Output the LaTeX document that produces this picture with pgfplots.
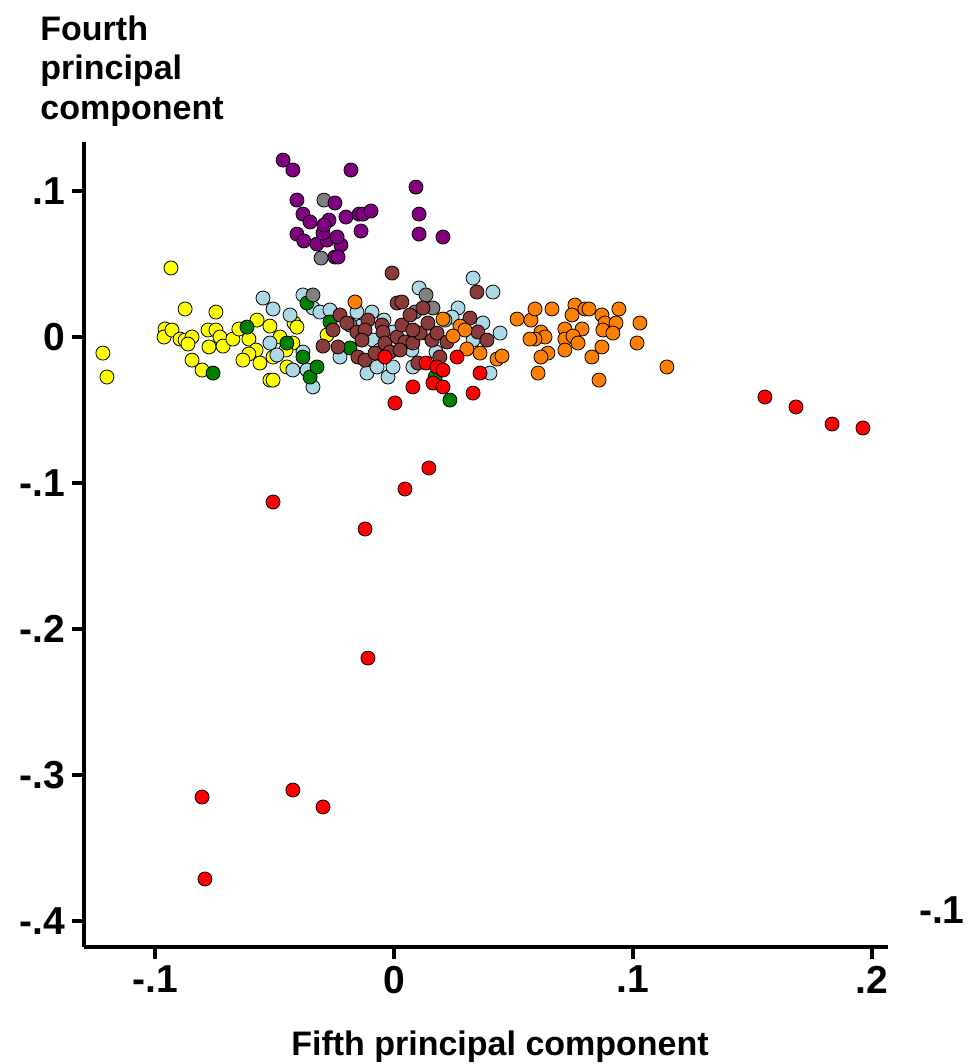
\documentclass[border=0pt]{standalone}
\usepackage{pgfplots}
\pgfplotsset{compat=1.18}
\usepackage{fontspec}
\setmainfont{Liberation Sans}
\definecolor{cyel}{HTML}{FFFF00}
\definecolor{clb}{HTML}{ADD8E6}
\definecolor{cgr}{HTML}{008000}
\definecolor{cgy}{HTML}{808080}
\definecolor{cpu}{HTML}{800080}
\definecolor{cbr}{HTML}{8B3A3A}
\definecolor{cor}{HTML}{FF8000}
\definecolor{cre}{HTML}{FF0000}
\begin{document}
\begin{tikzpicture}
\begin{axis}[
  at={(0,0)}, anchor=south west,
  scale only axis, width=402pt, height=402.5pt,
  xmin=-0.1297, xmax=0.2067, ymin=-0.4178, ymax=0.1336,
  axis x line=bottom, axis y line=left,
  axis line style={line width=1.8pt,-},
  xtick={-0.1,0,0.1,0.2}, xticklabels={-.1,0,.1,.2},
  ytick={-0.4,-0.3,-0.2,-0.1,0,0.1}, yticklabels={-.4,-.3,-.2,-.1,0,.1},
  tick align=outside, major tick length=6pt,
  major tick style={draw=black, line width=1.8pt},
  ticklabel style={font=\fontsize{19.5}{23}\selectfont\bfseries},
  clip=false,
]
% yellow
\addplot[only marks, mark=*, mark size=3.5pt, mark options={draw=black, line width=0.4pt, fill=cyel}] coordinates {
(-0.0933,0.0473) (-0.0874,0.0192) (-0.0745,0.0171) (-0.0958,0.0055) (-0.0962,0)
(-0.0929,0.0048) (-0.0895,-0.0014) (-0.0874,-0.0021) (-0.0845,0) (-0.0862,-0.0048)
(-0.0778,0.0048) (-0.0745,0.0048) (-0.0728,0) (-0.0774,-0.0068) (-0.0715,-0.0062)
(-0.0674,-0.0014) (-0.0649,0.0055) (-0.0607,-0.0014) (-0.0573,0.0116) (-0.0519,0.0075)
(-0.0577,-0.0089) (-0.0607,-0.0116) (-0.0632,-0.0158) (-0.0561,-0.0178) (-0.0506,-0.0137)
(-0.0477,0) (-0.0423,-0.0041) (-0.0448,-0.0205) (-0.0418,0.0096) (-0.0406,0.0068)
(-0.0845,-0.0158) (-0.0803,-0.0226) (-0.1218,-0.0110) (-0.1201,-0.0274) (-0.0519,-0.0295)
(-0.0506,-0.0295) (-0.0280,0.0014) (-0.0452,-0.0089)
};
% light blue
\addplot[only marks, mark=*, mark size=3.5pt, mark options={draw=black, line width=0.4pt, fill=clb}] coordinates {
(-0.0548,0.0267) (-0.0506,0.0192) (-0.0435,0.0151) (-0.0381,0.0288) (-0.0339,0.0199)
(-0.0310,0.0171) (-0.0519,-0.0041) (-0.0381,-0.0103) (-0.0423,-0.0226) (-0.0364,-0.0226)
(-0.0339,-0.0342) (-0.0226,-0.0137) (-0.0113,-0.0247) (-0.0071,-0.0205) (-0.0025,-0.0274)
(-0.0092,0.0171) (-0.0155,0.0171) (-0.0004,0.0034) (-0.0088,-0.0021) (0.0331,0.0404)
(0.0414,0.0308) (0.0105,0.0336) (0.0268,0.0199) (0.0444,0.0027) (0.0372,0.0096)
(0.0331,-0.0021) (0.0402,-0.0247) (-0.0004,-0.0205) (0.0079,-0.0205) (0.0243,0.0137)
(0.0138,0.0027) (-0.0042,0.0116) (-0.0059,-0.0089) (0.0075,-0.0089) (0.0176,-0.0103)
(0.0213,0.0116) (-0.0138,0.0075) (-0.0268,0.0185) (-0.0490,-0.0123)
};
% green
\addplot[only marks, mark=*, mark size=3.5pt, mark options={draw=black, line width=0.4pt, fill=cgr}] coordinates {
(-0.0757,-0.0247) (-0.0615,0.0068) (-0.0448,-0.0041) (-0.0381,-0.0137) (-0.0351,-0.0274)
(-0.0322,-0.0205) (-0.0268,0.0103) (-0.0184,-0.0075) (0.0172,-0.0274) (0.0234,-0.0432)
(-0.0364,0.0233)
};
% grey
\addplot[only marks, mark=*, mark size=3.5pt, mark options={draw=black, line width=0.4pt, fill=cgy}] coordinates {
(-0.0293,0.0938) (-0.0305,0.0541) (-0.0339,0.0288) (-0.0184,0.0082) (0.0134,0.0288)
(0.0088,0.0171) (0.0163,0.0199)
};
% brown
\addplot[only marks, mark=*, mark size=3.5pt, mark options={draw=black, line width=0.4pt, fill=cbr}] coordinates {
(-0.0008,0.0438) (-0.0226,0.0151) (-0.0255,0.0048) (-0.0197,0.0096) (-0.0109,0.0116)
(-0.0155,0.0034) (-0.0121,0.0048) (-0.0134,-0.0021) (-0.0234,-0.0068) (-0.0297,-0.0062)
(-0.0151,-0.0137) (-0.0121,-0.0158) (-0.0079,-0.0110) (-0.0050,0.0082) (-0.0046,0.0034)
(-0.0038,-0.0041) (-0.0017,-0.0103) (0.0013,0.0233) (0.0013,0) (0.0347,0.0308)
(0.0033,0.0240) (0.0033,0.0082) (0.0046,-0.0034) (0.0079,-0.0041) (0.0109,0.0027)
(0.0159,-0.0021) (0.0180,0.0027) (0.0222,-0.0034) (0.0318,0.0130) (0.0351,0.0034)
(0.0389,-0.0021) (0.0192,-0.0137) (0.0100,-0.0178) (0.0121,0.0199) (0.0025,-0.0089)
(0.0142,0.0096) (0.0079,0.0048) (0.0067,0.0151)
};
% purple
\addplot[only marks, mark=*, mark size=3.5pt, mark options={draw=black, line width=0.4pt, fill=cpu}] coordinates {
(-0.0464,0.1212) (-0.0423,0.1144) (-0.0180,0.1144) (0.0092,0.1027) (-0.0406,0.0938)
(-0.0247,0.0918) (-0.0146,0.0842) (-0.0130,0.0842) (-0.0096,0.0863) (-0.0381,0.0842)
(-0.0351,0.0788) (-0.0272,0.0801) (-0.0201,0.0822) (0.0105,0.0842) (-0.0138,0.0726)
(-0.0406,0.0705) (-0.0377,0.0658) (-0.0322,0.0637) (-0.0280,0.0664) (-0.0222,0.0630)
(-0.0297,0.0712) (-0.0238,0.0685) (-0.0247,0.0548) (-0.0234,0.0548) (0.0105,0.0705)
(0.0205,0.0685) (-0.0293,0.0767)
};
% orange
\addplot[only marks, mark=*, mark size=3.5pt, mark options={draw=black, line width=0.4pt, fill=cor}] coordinates {
(0.0515,0.0123) (0.0573,0.0116) (0.0590,0.0192) (0.0661,0.0192) (0.0757,0.0219)
(0.0745,0.0151) (0.0799,0.0192) (0.0816,0.0192) (0.0870,0.0151) (0.0941,0.0192)
(0.1029,0.0096) (0.0883,0.0096) (0.0929,0.0096) (0.0874,0.0048) (0.0916,0.0027)
(0.0787,0.0055) (0.0715,0.0055) (0.0615,0.0034) (0.0632,0) (0.0590,-0.0014)
(0.0715,-0.0014) (0.0749,0.0007) (0.0770,-0.0041) (0.0715,-0.0089) (0.0870,-0.0068)
(0.1017,-0.0041) (0.0644,-0.0110) (0.0615,-0.0137) (0.0828,-0.0137) (0.0603,-0.0247)
(0.0858,-0.0295) (0.1142,-0.0205) (0.0431,-0.0151) (0.0452,-0.0130) (0.0205,0.0123)
(0.0276,0.0075) (0.0297,0.0048) (0.0247,0.0007) (0.0305,-0.0082) (0.0360,-0.0110)
(0.0569,-0.0014) (-0.0163,0.0240)
};
% red
\addplot[only marks, mark=*, mark size=3.5pt, mark options={draw=black, line width=0.4pt, fill=cre}] coordinates {
(0.1552,-0.0411) (0.1682,-0.0479) (0.1833,-0.0596) (0.1962,-0.0623) (-0.0506,-0.1130)
(-0.0121,-0.1315) (-0.0109,-0.2199) (0.0046,-0.1041) (0.0146,-0.0897) (-0.0803,-0.3151)
(-0.0423,-0.3103) (-0.0297,-0.3219) (-0.0791,-0.3712) (-0.0038,-0.0137) (0.0004,-0.0452)
(0.0079,-0.0342) (0.0134,-0.0178) (0.0180,-0.0205) (0.0205,-0.0226) (0.0163,-0.0315)
(0.0205,-0.0342) (0.0264,-0.0137) (0.0331,-0.0384) (0.0360,-0.0247)
};
% tick marks drawn along the axis lines
\pgfplotsinvokeforeach{-0.1,0,0.1,0.2}{
  \draw[line width=1.8pt] (axis cs:#1,-0.4178) -- ++(0pt,-6pt);
}
\pgfplotsinvokeforeach{-0.4,-0.3,-0.2,-0.1,0,0.1}{
  \draw[line width=1.8pt] (axis cs:-0.1297,#1) -- ++(-6pt,0pt);
}
\end{axis}
\node[anchor=north west, align=left, inner sep=0pt,
  font=\fontsize{17}{19.75}\selectfont\bfseries] at (-22pt,466pt)
  {Fourth\\principal\\component};
\node[anchor=north, inner sep=0pt, font=\fontsize{17}{20}\selectfont\bfseries]
  at (208pt,-41.5pt) {Fifth principal component};
\node[anchor=east, inner sep=0pt, font=\fontsize{19.5}{23}\selectfont\bfseries]
  at (440.5pt,18.5pt) {-.1};
\path (-42pt,-58.5pt) rectangle (442.5pt,473.5pt);
\end{tikzpicture}
\end{document}
